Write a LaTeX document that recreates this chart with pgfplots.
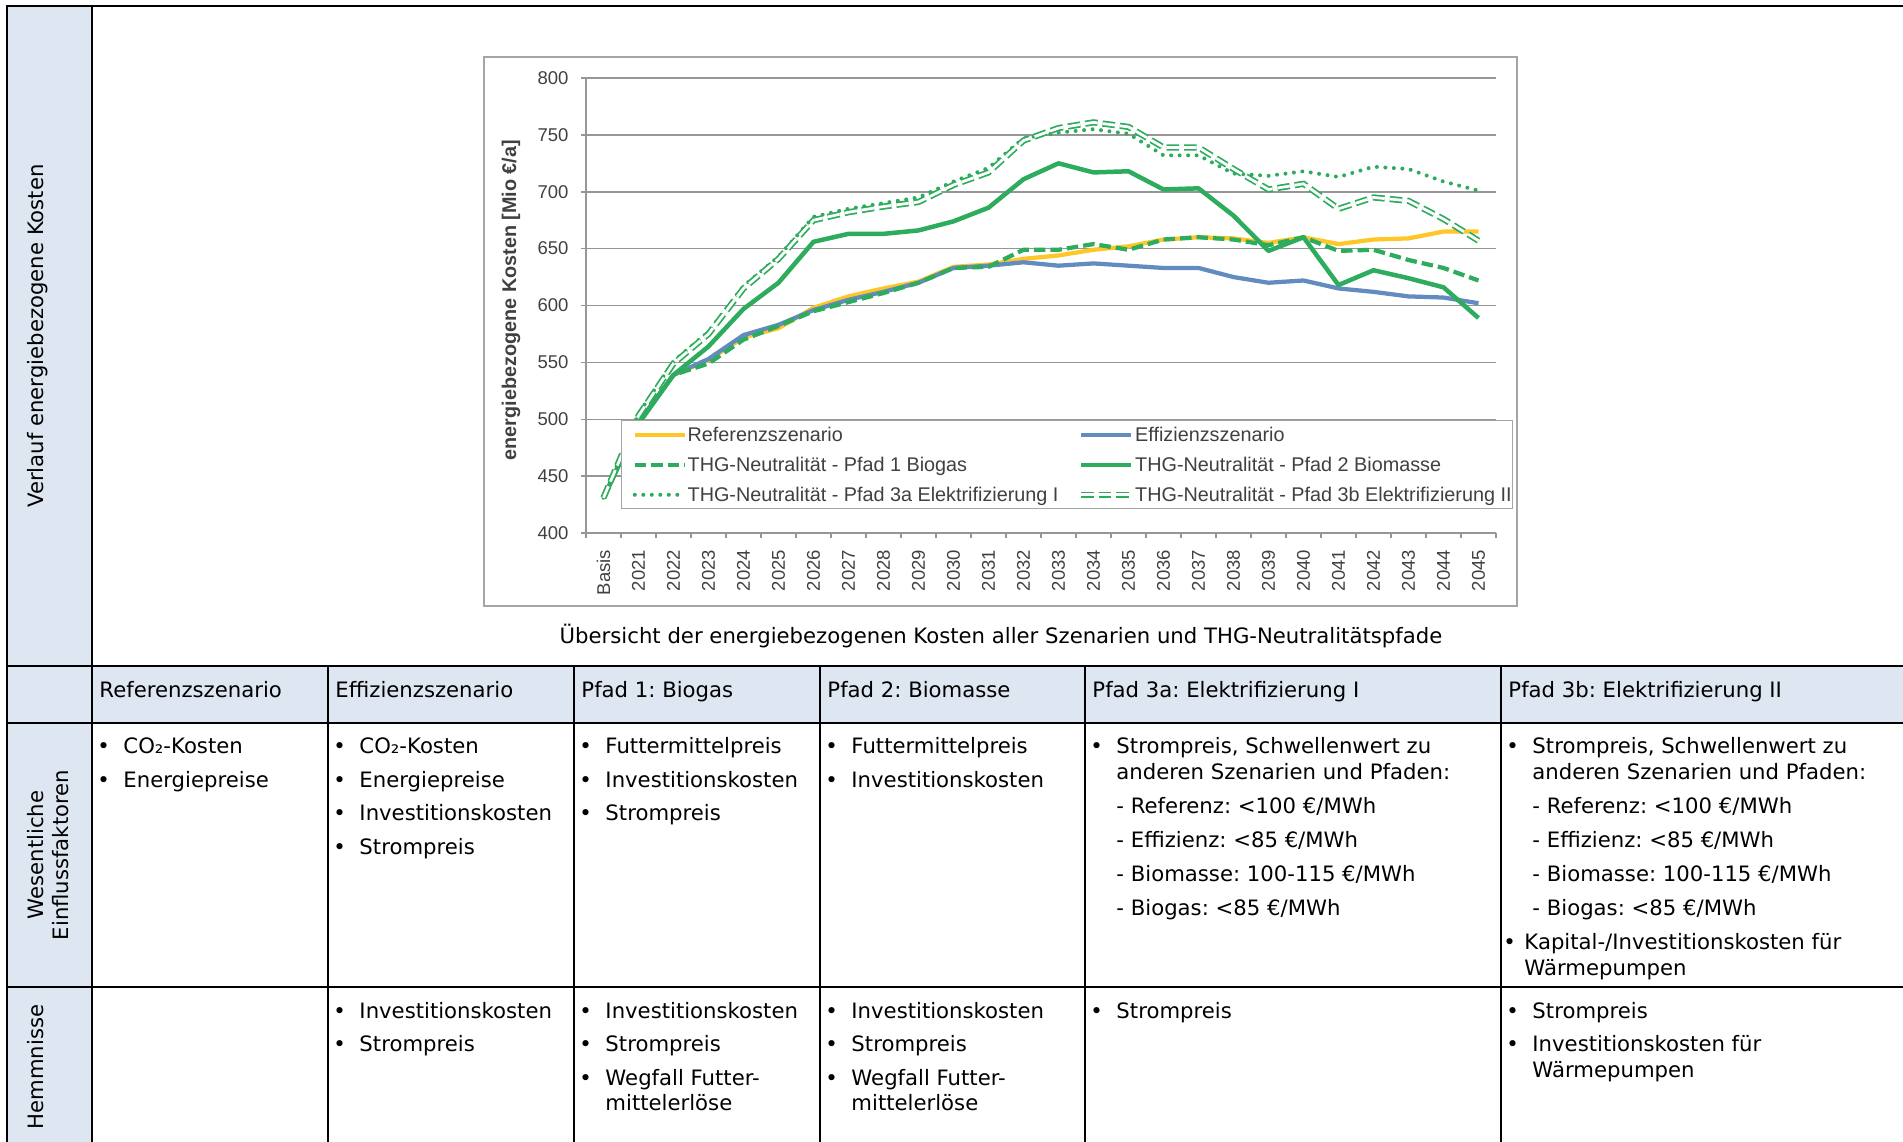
\documentclass[border=0pt]{standalone}
\usepackage{fontspec}
\setmainfont{DejaVu Sans}
\newfontfamily\chartfont{Liberation Sans}
\usepackage{pgfplots}
\usepackage{pgfplotstable}
\pgfplotsset{compat=1.18}
\frenchspacing

\definecolor{hdr}{RGB}{221,230,241}
\definecolor{refy}{RGB}{255,198,40}
\definecolor{effb}{RGB}{98,140,192}
\definecolor{thg}{RGB}{44,172,92}
\definecolor{gridc}{RGB}{150,150,150}
\definecolor{framec}{RGB}{165,165,165}
\definecolor{txtc}{RGB}{64,64,64}

\newcommand\tabfont{\fontsize{8.48pt}{10.2pt}\selectfont}
\newcommand\bitem[3]{\node[anchor=base west,inner sep=0pt] at (#1+5,#2) {•};\node[anchor=base west,inner sep=0pt] at (#1+31,#2) {#3};}
\newcommand\tline[3]{\node[anchor=base west,inner sep=0pt] at (#1+31,#2) {#3};}
\newcommand\hitem[2]{\node[anchor=base west,inner sep=0pt] at (#1+7,698) {#2};}

\pgfplotstableread{
i ref eff bioa biob ea eb
0 431 431 431 431 431 431
1 497 497 497 496 505 503
2 539 539 539 539 551 549
3 552 553 549 564 577 575
4 572 574 570 597 617 615
5 580 583 582 620 643 641
6 598 596 595 656 678 675
7 608 605 603 663 685 682
8 615 612 611 663 690 687
9 621 620 620 666 695 691
10 634 633 633 674 709 706
11 636 635 634 686 721 717
12 641 638 649 711 747 745
13 644 635 649 725 752 756
14 649 637 654 717 755 761
15 652 635 649 718 751 757
16 658 633 658 702 732 739
17 660 633 660 703 732 739
18 659 625 658 679 716 720
19 655 620 653 648 714 702
20 660 622 660 660 718 707
21 654 615 648 618 713 685
22 658 612 649 631 722 695
23 659 608 640 624 720 692
24 665 607 633 616 709 676
25 665 602 622 589 701 657
}\costs

\begin{document}
\begin{tikzpicture}
\useasboundingbox (0pt,0pt) rectangle (761.2pt,-456.8pt);
\begin{scope}[x=0.4pt,y=-0.4pt,font=\tabfont]
\clip (0,0) rectangle (1903,1142);
\fill[hdr] (7,6) rectangle (92,1160);
\fill[hdr] (92,666) rectangle (1920,723);
\draw[line width=1pt] (7,1160) -- (7,6) -- (1920,6);
\draw[line width=1pt] (92,6) -- (92,1160);
\foreach \y in {666,723,987} \draw[line width=1pt] (7,\y) -- (1920,\y);
\foreach \x in {328,574,820,1085,1501} \draw[line width=1pt] (\x,666) -- (\x,1160);
% chart frame
\draw[framec, line width=0.6pt] (484,57) rectangle (1517,606);
% caption
\node[anchor=base,inner sep=0pt] at (1001,644) {Übersicht der energiebezogenen Kosten aller Szenarien und THG-Neutralitätspfade};
% row labels
\node[rotate=90,anchor=base,inner sep=0pt] at (43.5,336) {Verlauf energiebezogene Kosten};
\node[rotate=90,anchor=base,inner sep=0pt] at (44,855) {Wesentliche};
\node[rotate=90,anchor=base,inner sep=0pt] at (69,855) {Einflussfaktoren};
\node[rotate=90,anchor=base,inner sep=0pt] at (43.5,1067) {Hemmnisse};
% header
\hitem{92}{Referenzszenario}
\hitem{328}{Effizienzszenario}
\hitem{574}{Pfad 1: Biogas}
\hitem{820}{Pfad 2: Biomasse}
\hitem{1085}{Pfad 3a: Elektrifizierung I}
\hitem{1501}{Pfad 3b: Elektrifizierung II}
% Einflussfaktoren
\bitem{92}{754}{CO₂-Kosten}
\bitem{92}{788}{Energiepreise}
\bitem{328}{754}{CO₂-Kosten}
\bitem{328}{788}{Energiepreise}
\bitem{328}{821}{Investitionskosten}
\bitem{328}{855}{Strompreis}
\bitem{574}{754}{Futtermittelpreis}
\bitem{574}{788}{Investitionskosten}
\bitem{574}{821}{Strompreis}
\bitem{820}{754}{Futtermittelpreis}
\bitem{820}{788}{Investitionskosten}
\bitem{1085}{754}{Strompreis, Schwellenwert zu}
\tline{1085}{780}{anderen Szenarien und Pfaden:}
\tline{1085}{814}{- Referenz: <100 €/MWh}
\tline{1085}{848}{- Effizienz: <85 €/MWh}
\tline{1085}{882}{- Biomasse: 100-115 €/MWh}
\tline{1085}{916}{- Biogas: <85 €/MWh}
\bitem{1501}{754}{Strompreis, Schwellenwert zu}
\tline{1501}{780}{anderen Szenarien und Pfaden:}
\tline{1501}{814}{- Referenz: <100 €/MWh}
\tline{1501}{848}{- Effizienz: <85 €/MWh}
\tline{1501}{882}{- Biomasse: 100-115 €/MWh}
\tline{1501}{916}{- Biogas: <85 €/MWh}
\node[anchor=base west,inner sep=0pt] at (1503,950) {•};
\node[anchor=base west,inner sep=0pt] at (1524,950) {Kapital-/Investitionskosten für};
\node[anchor=base west,inner sep=0pt] at (1524,976) {Wärmepumpen};
% Hemmnisse
\bitem{328}{1019}{Investitionskosten}
\bitem{328}{1052}{Strompreis}
\bitem{574}{1019}{Investitionskosten}
\bitem{574}{1052}{Strompreis}
\bitem{574}{1086}{Wegfall Futter-}
\tline{574}{1111}{mittelerlöse}
\bitem{820}{1019}{Investitionskosten}
\bitem{820}{1052}{Strompreis}
\bitem{820}{1086}{Wegfall Futter-}
\tline{820}{1111}{mittelerlöse}
\bitem{1085}{1019}{Strompreis}
\bitem{1501}{1019}{Strompreis}
\bitem{1501}{1052}{Investitionskosten für}
\tline{1501}{1078}{Wärmepumpen}
\end{scope}

\begin{axis}[
  at={(234.4pt,-213.2pt)}, anchor=south west,
  scale only axis, width=364pt, height=182pt,
  xmin=-0.5, xmax=25.5, ymin=400, ymax=800,
  axis x line*=bottom, axis y line*=left,
  axis line style={gridc, line width=0.6pt},
  ytick={400,450,...,800},
  ymajorgrids, grid style={gridc, line width=0.6pt},
  xtick={0,...,25},
  xticklabels={Basis,2021,2022,2023,2024,2025,2026,2027,2028,2029,2030,2031,2032,2033,2034,2035,2036,2037,2038,2039,2040,2041,2042,2043,2044,2045},
  minor xtick={-0.5,0.5,...,25.5},
  tick align=outside,
  major tick length=2pt, minor tick length=2pt,
  tick style={gridc, line width=0.6pt},
  major x tick style={draw=none},
  ticklabel style={font=\chartfont\fontsize{7.4pt}{8pt}\selectfont, text=txtc},
  /pgf/number format/assume math mode=true,
  yticklabel style={anchor=east, inner sep=0pt},
  yticklabel shift=4.8pt,
  xticklabel style={rotate=90, anchor=east, inner sep=0pt},
  xticklabel shift=4.6pt,
  ylabel={energiebezogene Kosten [Mio €/a]},
  ylabel style={font=\chartfont\bfseries\fontsize{7.92pt}{9pt}\selectfont, text=txtc, at={(axis description cs:-0.0824,0.512)}, anchor=center},
  legend columns=2,
  legend cell align=left,
  legend image code/.code={\path (0pt,0pt); \draw[#1] (4.4pt,0pt) -- (24.4pt,0pt);},
  legend style={at={(0.0385,0.248)}, anchor=north west, draw=framec, line width=0.5pt, fill=white,
    inner xsep=0pt, inner ysep=1.1pt, row sep=3pt,
    font=\chartfont\fontsize{7.92pt}{9pt}\selectfont, text=txtc,
    nodes={inner xsep=0.3pt, inner ysep=0pt, text height=7pt, text depth=2pt},
    /tikz/every even column/.append style={column sep=3.2pt}},
]
\addplot[refy, line width=1.7pt, line join=round] table[x=i,y=ref] {\costs};
\addlegendentry{Referenzszenario}
\addplot[effb, line width=1.7pt, line join=round] table[x=i,y=eff] {\costs};
\addlegendentry{Effizienzszenario}
\addplot[thg, line width=1.7pt, dash pattern=on 4.6pt off 2pt] table[x=i,y=bioa] {\costs};
\addlegendentry{THG-Neutralität - Pfad 1 Biogas}
\addplot[thg, line width=1.8pt, line join=round] table[x=i,y=biob] {\costs};
\addlegendentry{THG-Neutralität - Pfad 2 Biomasse}
\addplot[thg, line width=1.6pt, line cap=round, dash pattern=on 0pt off 3.4pt] table[x=i,y=ea] {\costs};
\addlegendentry{THG-Neutralität - Pfad 3a Elektrifizierung I}
\addplot[thg, line width=0.7pt, double=white, double distance=1.1pt, dash pattern=on 5pt off 2pt] table[x=i,y=eb] {\costs};
\addlegendentry{THG-Neutralität - Pfad 3b Elektrifizierung II}
\end{axis}
\end{tikzpicture}
\end{document}
